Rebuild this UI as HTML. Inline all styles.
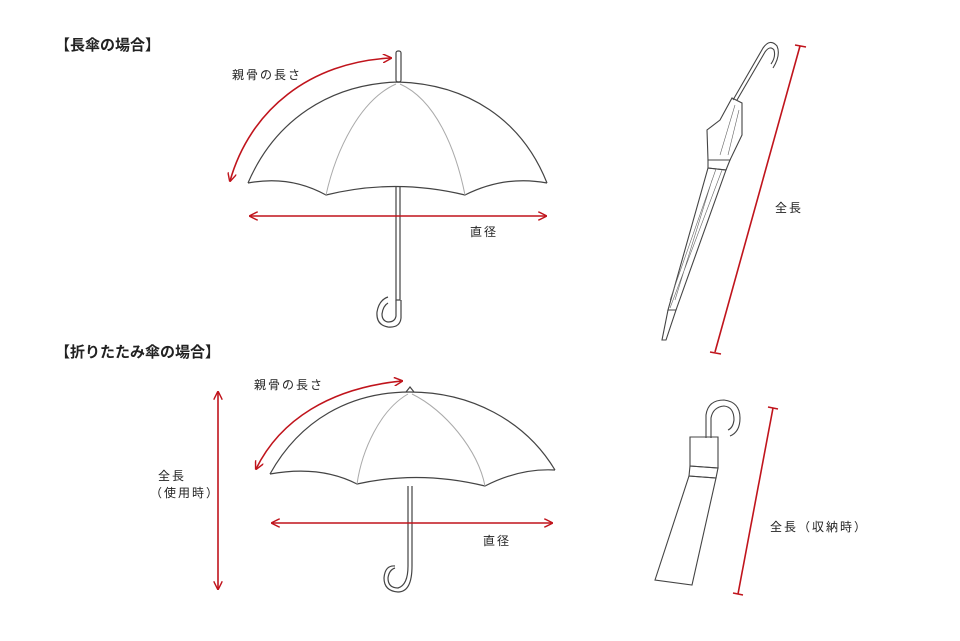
<!DOCTYPE html>
<html><head><meta charset="utf-8"><style>
html,body{margin:0;padding:0;background:#fff;}
svg{display:block;}
text{font-family:"Liberation Sans","Noto Sans CJK JP",sans-serif;fill:#222;letter-spacing:2px;}
</style></head><body>
<svg width="960" height="641" viewBox="0 0 960 641" xmlns="http://www.w3.org/2000/svg">
<defs>
<marker id="ah" viewBox="0 0 10 10" refX="9" refY="5" markerWidth="9" markerHeight="9" orient="auto-start-reverse" markerUnits="userSpaceOnUse">
<path d="M0,0 L10,5 L0,10" fill="none" stroke="#c0141c" stroke-width="1.6"/></marker>
</defs>
<text x="55" y="50" font-size="15" font-weight="bold" style="letter-spacing:0">【長傘の場合】</text>
<text x="55" y="357" font-size="15" font-weight="bold" style="letter-spacing:0">【折りたたみ傘の場合】</text>

<!-- long umbrella -->
<g fill="none" stroke="#444" stroke-width="1.2">
<rect x="396" y="51" width="5" height="31" rx="2"/>
<path d="M248,183 C275,120 330,84 398,82 C468,84 522,120 547,183"/>
<path d="M248,183 Q290,175 326,195 Q395,178 465,195 Q505,175 547,183"/>
<path d="M396,187 L396,300 L400,300 L400,187"/>
<path d="M396,300 L396,316 Q395,322 388,322 Q382,321 382,314 Q383,306 388,303 M401,300 L401,318 Q400,328 388,327 Q376,325 377,312 Q379,300 388,297"/>
</g>
<g fill="none" stroke="#aaa" stroke-width="1">
<path d="M396,84 C360,100 336,150 326,195"/><path d="M400,84 C436,100 456,150 465,195"/>
</g>
<g fill="none" stroke="#c0141c" stroke-width="1.6">
<path d="M230,181 C250,110 310,62 391,58" marker-start="url(#ah)" marker-end="url(#ah)"/>
<line x1="250" y1="216" x2="546" y2="216" marker-start="url(#ah)" marker-end="url(#ah)"/>
</g>
<text x="232" y="79" font-size="12">親骨の長さ</text>
<text x="470" y="236" font-size="12">直径</text>

<!-- closed long umbrella -->
<g fill="none" stroke="#444" stroke-width="1.1">
<path d="M733,100 L763,48 Q770,38 777,46 Q781,55 773,68 M737,100 L765,52 Q770,45 774,50 Q776,57 771,64"/>
<path d="M732,98 L742,103 L742,135 L730,160 L708,160 L707,130 L720,120 Z"/>
<path d="M708,160 L730,160 L726,170 L708,168 Z"/>
<path d="M708,168 L726,170 L676,310 L668,310 Z"/>
<path d="M668,310 L676,310 L666,340 L662,340 Z"/>
</g>
<g stroke="#666" stroke-width="0.6">
<path d="M722,170 L670,308 M716,169 L670,300 M712,180 L675,300"/>
<path d="M735,105 L720,155 M739,110 L728,155"/>
</g>
<g stroke="#c0141c" stroke-width="1.6">
<line x1="800" y1="46" x2="715" y2="352"/><line x1="795" y1="45" x2="806" y2="47"/><line x1="710" y1="352" x2="721" y2="354"/>
</g>
<text x="775" y="212" font-size="12">全長</text>

<!-- folding umbrella -->
<g fill="none" stroke="#444" stroke-width="1.2">
<path d="M406,392 L410,387 L414,392"/>
<path d="M270,474 C300,420 350,392 410,392 C470,392 525,420 555,470"/>
<path d="M270,474 Q320,465 357,484 Q420,470 485,486 Q520,468 555,470"/>
<path d="M408,486 L408,566 M412,486 L412,566"/>
<path d="M408,566 Q408,585 398,588 Q388,588 388,578 Q389,570 395,568 M412,566 Q412,592 398,592 Q384,591 384,578 Q385,565 395,566"/>
</g>
<g fill="none" stroke="#aaa" stroke-width="1">
<path d="M408,394 C380,410 362,450 357,484"/><path d="M412,394 C445,410 478,450 485,486"/>
</g>
<g fill="none" stroke="#c0141c" stroke-width="1.6">
<path d="M256,469 C280,420 330,388 402,381" marker-start="url(#ah)" marker-end="url(#ah)"/>
<line x1="272" y1="523" x2="552" y2="523" marker-start="url(#ah)" marker-end="url(#ah)"/>
<line x1="218" y1="392" x2="218" y2="589" marker-start="url(#ah)" marker-end="url(#ah)"/>
</g>
<text x="254" y="389" font-size="12">親骨の長さ</text>
<text x="483" y="545" font-size="12">直径</text>
<text x="158" y="480" font-size="12">全長</text>
<text x="150" y="497" font-size="12">（使用時）</text>

<!-- folded umbrella -->
<g fill="none" stroke="#444" stroke-width="1.1">
<path d="M706,438 L706,415 Q708,400 724,400 Q740,402 740,418 Q740,432 730,436 M711,438 L711,418 Q713,407 724,406 Q734,407 734,420 Q733,428 728,430"/>
<path d="M690,437 L718,437 L718,468 L690,466 Z"/>
<path d="M690,466 L718,468 L716,478 L689,476 Z"/>
<path d="M689,476 L716,478 L692,585 L655,580 Z"/>
</g>
<g stroke="#c0141c" stroke-width="1.6">
<line x1="773" y1="408" x2="738" y2="594"/><line x1="768" y1="407" x2="778" y2="409"/><line x1="733" y1="593" x2="743" y2="595"/>
</g>
<text x="770" y="531" font-size="12">全長（収納時）</text>
</svg>
</body></html>
